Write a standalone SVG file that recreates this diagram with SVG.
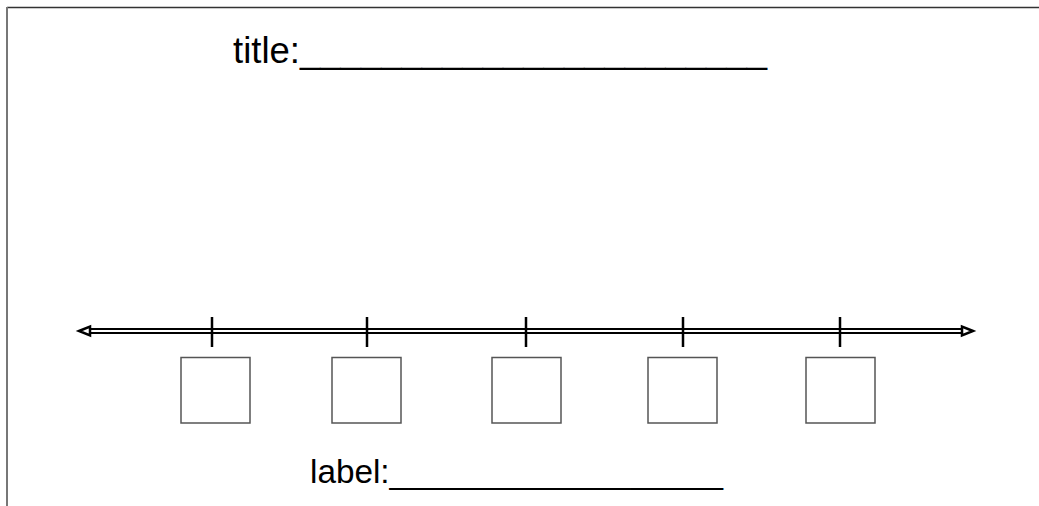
<svg xmlns="http://www.w3.org/2000/svg" width="1039" height="506" viewBox="0 0 1039 506">
<style>
  .txt { font-family: "Liberation Sans", Arial, sans-serif; fill: #000; }
  .box { fill: #fff; stroke: #555; stroke-width: 1.5; }
  .tick { stroke: #000; stroke-width: 2.5; }
  .head { fill: #fff; stroke: #000; stroke-width: 2.5; stroke-linejoin: miter; }
</style>
<rect width="1039" height="506" fill="#fff"/>
<g id="frame">
  <line x1="7" y1="7.5" x2="1039" y2="7.5" stroke="#333" stroke-width="1.5"/>
  <line x1="7" y1="7" x2="7" y2="506" stroke="#777" stroke-width="2"/>
</g>
<g id="title"><text class="txt" x="233" y="63" font-size="36" textLength="534" lengthAdjust="spacingAndGlyphs">title:_______________________</text></g>
<g id="connectors">
  <line x1="86" y1="331" x2="966" y2="331" stroke="#000" stroke-width="6"/>
  <line x1="84" y1="331" x2="968" y2="331" stroke="#fff" stroke-width="2"/>
  <polygon class="head" points="79,331 90,326.5 90,335.5"/>
  <polygon class="head" points="973,331 962,326.5 962,335.5"/>
</g>
<g id="ticks">
  <line class="tick" x1="212" y1="317" x2="212" y2="347"/>
  <line class="tick" x1="367" y1="317" x2="367" y2="347"/>
  <line class="tick" x1="526" y1="317" x2="526" y2="347"/>
  <line class="tick" x1="683" y1="317" x2="683" y2="347"/>
  <line class="tick" x1="840" y1="317" x2="840" y2="347"/>
</g>
<g id="box1"><rect class="box" x="181" y="357.5" width="69" height="65.5"/></g>
<g id="box2"><rect class="box" x="332" y="357.5" width="69" height="65.5"/></g>
<g id="box3"><rect class="box" x="492" y="357.5" width="69" height="65.5"/></g>
<g id="box4"><rect class="box" x="648" y="357.5" width="69" height="65.5"/></g>
<g id="box5"><rect class="box" x="806" y="357.5" width="69" height="65.5"/></g>
<g id="label"><text class="txt" x="310" y="483" font-size="34" textLength="413" lengthAdjust="spacingAndGlyphs">label:__________________</text></g>
</svg>
